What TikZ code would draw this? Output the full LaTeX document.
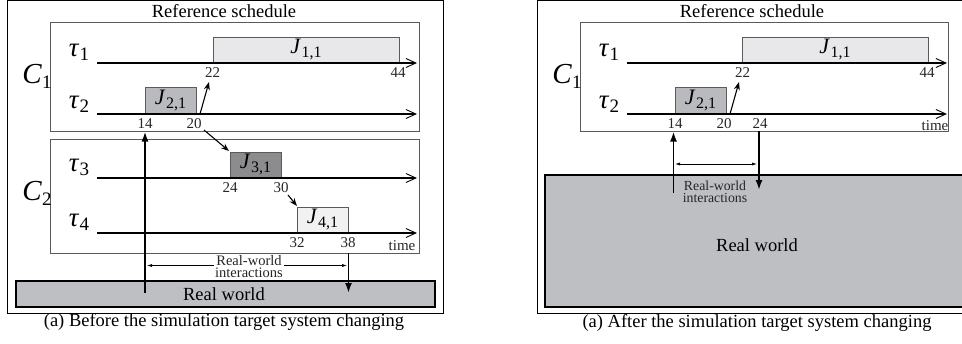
\documentclass[tikz,border=0pt]{standalone}
\usepackage{fontspec}
\setmainfont{Liberation Serif}
\usetikzlibrary{arrows.meta}
\definecolor{jlight}{HTML}{E8E8EA}
\definecolor{jpale}{HTML}{F1F1F1}
\definecolor{jmid}{HTML}{B9BABD}
\definecolor{jdark}{HTML}{8C8C8E}
\definecolor{rwgray}{HTML}{BEBFC3}
\definecolor{boxline}{HTML}{5A5A5A}
\newcommand\tsklab[1]{{\fontsize{27}{27}\selectfont\textit{τ}\kern0.5pt\raisebox{-4pt}{\fontsize{19}{19}\selectfont #1}}}
\newcommand\joblab[1]{{\fontsize{22}{22}\selectfont\textit{J}\kern0.5pt\raisebox{-4pt}{\fontsize{16}{16}\selectfont #1}}}
\newcommand\clab[1]{{\fontsize{29}{29}\selectfont\textit{C}\raisebox{-5pt}{\fontsize{19}{19}\selectfont #1}}}
\begin{document}
\begin{tikzpicture}[x=1pt,y=-1pt,
  frame/.style={draw=black, line width=0.9pt, inner sep=0pt},
  cbox/.style={draw=boxline, line width=0.8pt, inner sep=0pt},
  jobbox/.style={draw=boxline, line width=0.8pt, inner sep=0pt},
  rwbox/.style={draw=black, line width=2pt, fill=rwgray, inner sep=0pt},
  title/.style={font=\fontsize{18.5}{20}\selectfont, inner sep=0pt},
  num/.style={font=\fontsize{15}{15}\selectfont, inner sep=0pt, text=black!85},
  tlab/.style={inner sep=0pt},
  axis/.style={line width=1.1pt, -{Straight Barb[length=10pt,width=9pt,line width=0.9pt]}},
  jarrow/.style={line width=1.1pt, -{Stealth[length=8pt,width=6pt]}},
  rwarrow/.style={line width=1.8pt, -{Latex[length=10pt,width=7pt]}},
  rwline/.style={line width=1.8pt},
  interarrow/.style={line width=0.6pt, {Latex[length=5pt,width=3pt]}-{Latex[length=5pt,width=3pt]}},
  interlab/.style={font=\fontsize{14.5}{12.5}\selectfont, align=center, inner sep=1pt, text=black!85}
]
\useasboundingbox (0,0) rectangle (962,343);

% ================= LEFT PANEL =================
\node[frame, minimum width=436pt, minimum height=312.5pt] (outL) at (225,156.75) {};
\node[title] (refL) at (224,11) {Reference schedule};
\node[cbox, minimum width=369pt, minimum height=109pt] (c1L) at (234.5,76.5) {};
\node[cbox, minimum width=369pt, minimum height=114pt] (c2L) at (234.5,196) {};
\node[tlab] (c1labL) at (37,76) {\clab{1}};
\node[tlab] (c2labL) at (37,193) {\clab{2}};
\node[tlab] (t1L) at (79,52) {\tsklab{1}};
\node[tlab] (t2L) at (79,104) {\tsklab{2}};
\node[tlab] (t3L) at (79,167) {\tsklab{3}};
\node[tlab] (t4L) at (79,222) {\tsklab{4}};

\node[jobbox, fill=jlight, minimum width=186pt, minimum height=26pt] (j11L) at (306,50) {\joblab{1,1}};
\node[jobbox, fill=jmid, minimum width=51pt, minimum height=27pt] (j21L) at (170.5,100.5) {\joblab{2,1}};
\node[jobbox, fill=jdark, minimum width=51pt, minimum height=26pt] (j31L) at (255.5,165) {\joblab{3,1}};
\node[jobbox, fill=jpale, minimum width=51pt, minimum height=26pt] (j41L) at (322.5,220) {\joblab{4,1}};

\coordinate (a1sL) at (97,63);  \coordinate (a1eL) at (417,63);
\coordinate (a2sL) at (97,114); \coordinate (a2eL) at (417,114);
\coordinate (a3sL) at (97,178); \coordinate (a3eL) at (417,178);
\coordinate (a4sL) at (97,233); \coordinate (a4eL) at (417,233);
\draw[axis] (a1sL) -- (a1eL);
\draw[axis] (a2sL) -- (a2eL);
\draw[axis] (a3sL) -- (a3eL);
\draw[axis] (a4sL) -- (a4eL);

\node[num] (n22L) at (212.5,73) {22};
\node[num] (n44L) at (398,73) {44};
\node[num] (n14L) at (145,124) {14};
\node[num] (n20L) at (194,124) {20};
\node[num] (n24L) at (230,188) {24};
\node[num] (n30L) at (281,188) {30};
\node[num] (n32L) at (297,243) {32};
\node[num] (n38L) at (348,243) {38};
\node[num] (timeL) at (402,246) {time};

\coordinate (p20L) at (200,114); \coordinate (p22L) at (209,82);
\draw[jarrow] (p20L) -- (p22L);
\coordinate (q20L) at (204,130); \coordinate (q24L) at (229,151);
\draw[jarrow] (q20L) -- (q24L);
\coordinate (q30L) at (288,195); \coordinate (q32L) at (297,206);
\draw[jarrow] (q30L) -- (q32L);

\node[rwbox, minimum width=419pt, minimum height=26pt] (rwL) at (225.5,294) {};
\node[title] (rwtL) at (224,294) {Real world};

\coordinate (upsL) at (145,293); \coordinate (upeL) at (145,131.5);
\draw[rwarrow] (upsL) -- (upeL);
\coordinate (dnsL) at (348.5,253); \coordinate (dneL) at (348.5,293);
\draw[rwarrow] (dnsL) -- (dneL);
\coordinate (ilL) at (147,265.5); \coordinate (irL) at (347,265.5);
\draw[interarrow] (ilL) -- (irL);
\node[interlab, fill=white] (ilabL) at (249,266.5) {Real-world\\interactions};

\node[title] (capL) at (224,322) {(a) Before the simulation target system changing};

% ================= RIGHT PANEL =================
\node[frame, minimum width=438pt, minimum height=312.5pt] (outR) at (756,156.75) {};
\node[title] (refR) at (752,11) {Reference schedule};
\node[rwbox, minimum width=430pt, minimum height=132pt] (rwR) at (760,241) {};
\node[title] (rwtR) at (757,245) {Real world};
\node[cbox, minimum width=368pt, minimum height=109pt] (c1R) at (764,76.5) {};
\node[tlab] (c1labR) at (567,76) {\clab{1}};
\node[tlab] (t1R) at (609,52) {\tsklab{1}};
\node[tlab] (t2R) at (609,104) {\tsklab{2}};

\node[jobbox, fill=jlight, minimum width=186pt, minimum height=26pt] (j11R) at (835,50) {\joblab{1,1}};
\node[jobbox, fill=jmid, minimum width=51pt, minimum height=27pt] (j21R) at (700.5,100.5) {\joblab{2,1}};

\coordinate (a1sR) at (627,63);  \coordinate (a1eR) at (947,63);
\coordinate (a2sR) at (627,114); \coordinate (a2eR) at (947,114);
\draw[axis] (a1sR) -- (a1eR);
\draw[axis] (a2sR) -- (a2eR);

\node[num] (n22R) at (742.5,73) {22};
\node[num] (n44R) at (927,73) {44};
\node[num] (n14R) at (675,124) {14};
\node[num] (n20R) at (724,124) {20};
\node[num] (n24R) at (760,124) {24};
\node[num] (timeR) at (935,126) {time};

\coordinate (p20R) at (730,114); \coordinate (p22R) at (739,82);
\draw[jarrow] (p20R) -- (p22R);

\coordinate (upsR) at (673.5,193); \coordinate (upeR) at (673.5,131.5);
\draw[rwarrow] (upsR) -- (upeR);
\coordinate (dnsR) at (759,131); \coordinate (dneR) at (759,190);
\draw[rwarrow] (dnsR) -- (dneR);
\coordinate (ilR) at (675,164); \coordinate (irR) at (757,164);
\draw[interarrow] (ilR) -- (irR);
\node[interlab, font=\fontsize{13.8}{12.5}\selectfont] (ilabR) at (715,192) {Real-world\\interactions};

\node[title] (capR) at (757,323) {(a) After the simulation target system changing};
\end{tikzpicture}
\end{document}
